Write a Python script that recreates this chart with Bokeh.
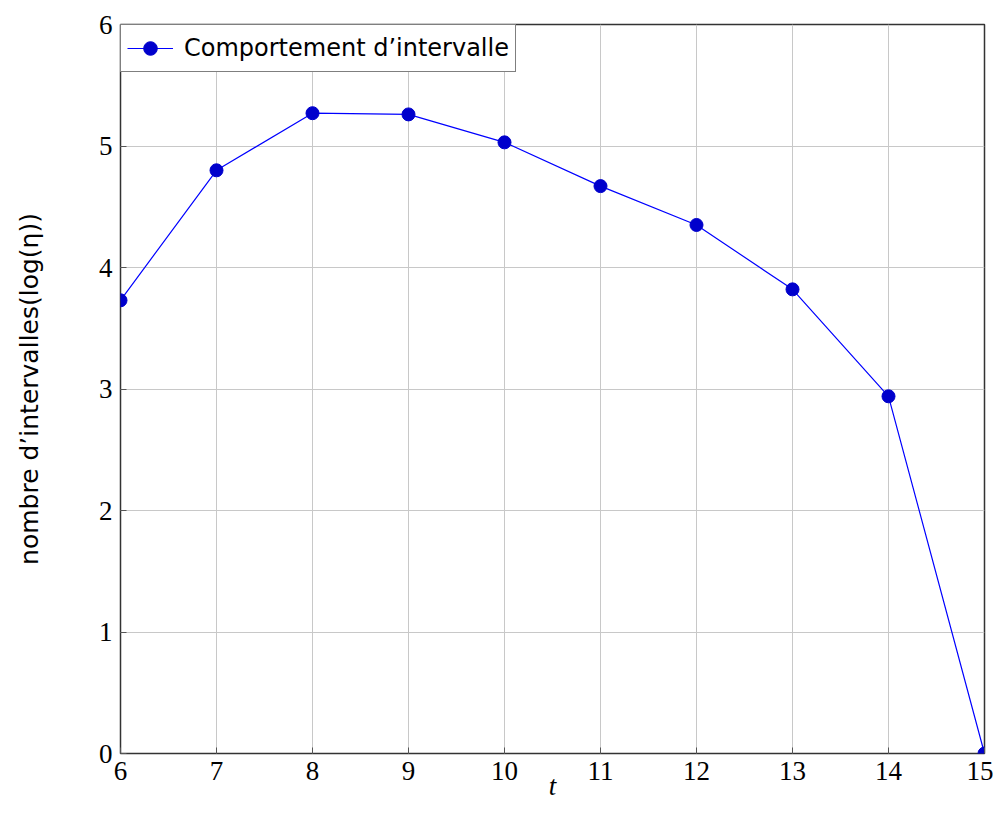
from bokeh.plotting import figure
from bokeh.models import Range1d, FixedTicker
from bokeh.embed import file_html
from bokeh.resources import INLINE

t_values = [6, 7, 8, 9, 10, 11, 12, 13, 14, 15]
log_eta = [3.73, 4.80, 5.27, 5.26, 5.03, 4.67, 4.35, 3.82, 2.94, 0.0]
x_ticks = [6, 7, 8, 9, 10, 11, 12, 13, 14, 15]
y_ticks = [0, 1, 2, 3, 4, 5, 6]
series_label = "Comportement d\u2019intervalle"

p = figure(width=993, height=813, output_backend="svg", toolbar_location=None,
           x_range=Range1d(6, 15), y_range=Range1d(0, 6),
           min_border_left=120, min_border_right=9, min_border_top=24, min_border_bottom=60)

p.line(t_values, log_eta, line_color="#0000ff", line_width=1.2, legend_label=series_label)
p.scatter(t_values, log_eta, size=13, fill_color="#0000cc", line_color="#0000cc",
          legend_label=series_label)

for ax in (p.xaxis[0], p.yaxis[0]):
    ax.major_label_text_font = "Liberation Serif"
    ax.major_label_text_font_size = "27px"
    ax.major_label_text_color = "black"
    ax.major_tick_in = 6
    ax.major_tick_out = 0
    ax.minor_tick_in = 0
    ax.minor_tick_out = 0
    ax.axis_line_color = None
    ax.major_tick_line_color = "#555555"

p.xaxis.ticker = FixedTicker(ticks=x_ticks)
p.yaxis.ticker = FixedTicker(ticks=y_ticks)
p.xaxis.major_label_standoff = 8
p.yaxis.major_label_standoff = 8

p.xaxis.axis_label = "t"
p.xaxis.axis_label_text_font = "Liberation Serif"
p.xaxis.axis_label_text_font_style = "italic"
p.xaxis.axis_label_text_font_size = "27px"
p.xaxis.axis_label_text_color = "black"
p.xaxis.axis_label_standoff = -12

p.yaxis.axis_label = "nombre d\u2019intervalles(log(\u03b7))"
p.yaxis.axis_label_text_font = "DejaVu Sans"
p.yaxis.axis_label_text_font_style = "normal"
p.yaxis.axis_label_text_font_size = "25px"
p.yaxis.axis_label_text_color = "black"
p.yaxis.axis_label_standoff = 52

p.xgrid.grid_line_color = "#c8c8c8"
p.ygrid.grid_line_color = "#c8c8c8"
p.xgrid.grid_line_width = 1
p.ygrid.grid_line_width = 1

p.outline_line_color = "#333333"
p.outline_line_width = 1.5
p.outline_line_alpha = 1

p.legend.location = "top_left"
p.legend.margin = 0
p.legend.padding = 6
p.legend.border_line_color = "black"
p.legend.border_line_width = 1.2
p.legend.label_text_font = "DejaVu Sans"
p.legend.label_text_font_size = "24px"
p.legend.label_text_color = "black"
p.legend.glyph_width = 46
p.legend.glyph_height = 34
p.legend.label_standoff = 11
p.legend.background_fill_alpha = 1

open("out.html", "w").write(file_html(p, INLINE))
